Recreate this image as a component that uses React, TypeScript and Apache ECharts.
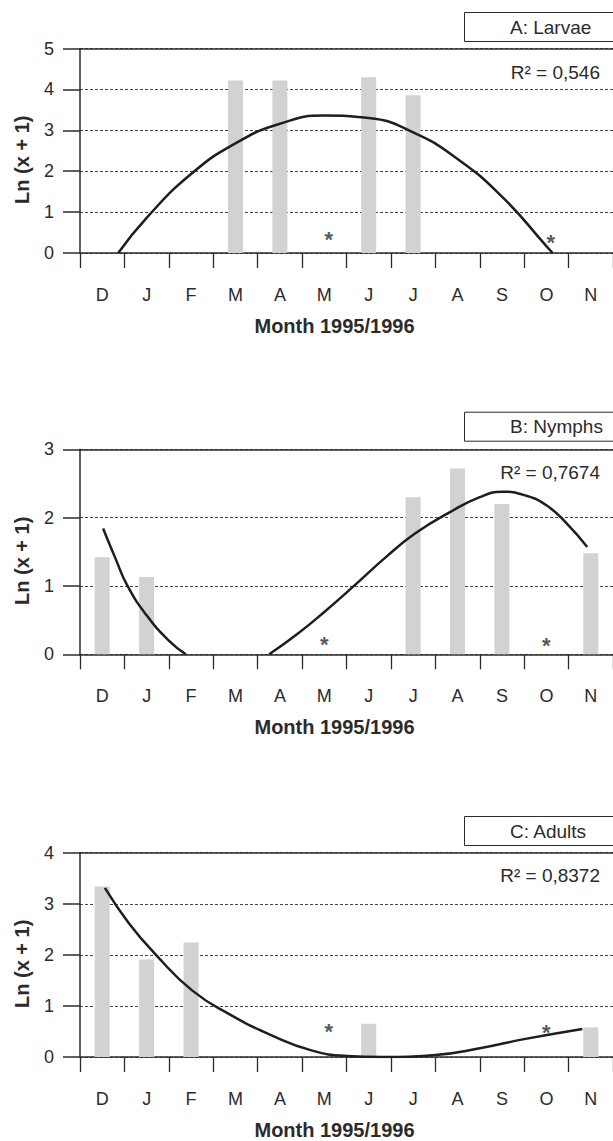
import React, { useEffect, useRef } from "react";
import * as echarts from "echarts";

const months = ["D", "J", "F", "M", "A", "M", "J", "J", "A", "S", "O", "N"];
const xAxisTitle = "Month 1995/1996";
const yAxisTitle = "Ln (x + 1)";

const titles = ["A: Larvae", "B: Nymphs", "C: Adults"];
const r2Labels = ["R² = 0,546", "R² = 0,7674", "R² = 0,8372"];
const yMax = [5, 3, 4];

const barsA = [0, 0, 0, 4.22, 4.22, 0, 4.3, 3.86, 0, 0, 0, 0];
const barsB = [1.42, 1.13, 0, 0, 0, 0, 0, 2.3, 2.72, 2.2, 0, 1.48];
const barsC = [3.34, 1.91, 2.24, 0, 0, 0, 0.65, 0, 0, 0, 0, 0.58];

// asterisks: [month index, height]
const starsA = [[5.1, 0.45], [10.1, 0.38]];
const starsB = [[5, 0.22], [10, 0.2]];
const starsC = [[5.1, 0.6], [10, 0.57]];

// trend curves: [month position, value]
const trendA = [[0.36, 0], [1, 0.86], [2, 1.93], [3, 2.68], [4, 3.16], [5, 3.36], [6, 3.3], [7, 2.95], [8, 2.3], [9, 1.38], [10, 0.17], [10.14, 0]];
const trendB1 = [[0.02, 1.84], [0.3, 1.4], [0.57, 1.0], [1, 0.57], [1.5, 0.2], [1.88, 0]];
const trendB2 = [[3.76, 0], [4.4, 0.3], [5.0, 0.62], [5.7, 1.02], [6.4, 1.43], [7.05, 1.77], [7.83, 2.08], [8.5, 2.3], [9.0, 2.38], [9.5, 2.33], [10.0, 2.18], [10.45, 1.92], [10.92, 1.57]];
const trendC = [[0.06, 3.31], [0.6, 2.62], [1.21, 2.0], [2.03, 1.3], [2.9, 0.82], [3.8, 0.43], [4.71, 0.13], [5.5, 0.02], [6.3, 0], [7.5, 0.04], [8.5, 0.17], [9.5, 0.35], [10.81, 0.55]];

const FONT = "'Liberation Sans', Arial, Helvetica, sans-serif";
const INK = "#2b2b2b";
const BAR = "#d2d2d2";

const layout = [
  { top: 48.5, height: 204.5, boxTop: 12, r2Top: 62 },
  { top: 449.3, height: 205, boxTop: 411.7, r2Top: 462 },
  { top: 852.7, height: 205.6, boxTop: 816, r2Top: 865 },
];

export default function App() {
  const ref = useRef<HTMLDivElement>(null);
  useEffect(() => {
    if (!ref.current) return;
    const chart = echarts.init(ref.current, null, { renderer: "svg" });
    const bars = [barsA, barsB, barsC];
    const stars = [starsA, starsB, starsC];
    const trends = [[trendA], [trendB1, trendB2], [trendC]];

    const grid: any[] = [];
    const xAxis: any[] = [];
    const yAxis: any[] = [];
    const series: any[] = [];
    const title: any[] = [];

    layout.forEach((L, k) => {
      grid.push({ left: 80, right: -3.5, top: L.top, height: L.height });
      xAxis.push({
        type: "category",
        gridIndex: k,
        data: months,
        boundaryGap: true,
        axisLine: { show: true, onZero: false, lineStyle: { color: INK, width: 1.5 } },
        axisTick: { show: true, length: 15, interval: 0, lineStyle: { color: INK, width: 1.3 } },
        axisLabel: { interval: 0, fontSize: 18, color: INK, margin: 33, fontFamily: FONT },
        splitLine: { show: false },
        name: xAxisTitle,
        nameLocation: "middle",
        nameGap: 63,
        nameTextStyle: { fontSize: 20, fontWeight: "bold", color: INK, fontFamily: FONT, padding: [0, 24, 0, 0] },
      });
      xAxis.push({
        type: "value",
        gridIndex: k,
        min: -0.5,
        max: 11.5,
        position: "top",
        axisLine: { show: true, onZero: false, lineStyle: { color: INK, width: 1.5 } },
        axisTick: { show: false },
        axisLabel: { show: false },
        splitLine: { show: false },
      });
      yAxis.push({
        type: "value",
        gridIndex: k,
        min: 0,
        max: yMax[k],
        interval: 1,
        axisLine: { show: true, onZero: false, lineStyle: { color: INK, width: 1.5 } },
        axisTick: { show: true, length: 17, lineStyle: { color: INK, width: 1.5 } },
        axisLabel: { fontSize: 18, color: INK, margin: 26, fontFamily: FONT },
        splitLine: { show: true, lineStyle: { color: "#444", width: 1, type: [3, 2] } },
        name: yAxisTitle,
        nameLocation: "middle",
        nameGap: 48,
        nameTextStyle: { fontSize: 20, fontWeight: "bold", color: INK, fontFamily: FONT, padding: [0, 18, 0, 0] },
      });
      series.push({
        type: "bar",
        xAxisIndex: 2 * k,
        yAxisIndex: k,
        data: bars[k],
        barWidth: 15,
        itemStyle: { color: BAR },
        z: 1,
      });
      trends[k].forEach((t) => {
        series.push({
          type: "line",
          xAxisIndex: 2 * k + 1,
          yAxisIndex: k,
          data: t,
          smooth: 0.5,
          symbol: "none",
          lineStyle: { color: "#1e1e1e", width: 2.5 },
          z: 5,
        });
      });
      series.push({
        type: "scatter",
        xAxisIndex: 2 * k + 1,
        yAxisIndex: k,
        data: stars[k],
        symbolSize: 1,
        itemStyle: { color: "rgba(0,0,0,0)" },
        label: {
          show: true,
          position: "inside",
          formatter: "*",
          fontSize: 22,
          fontWeight: "bold",
          color: INK,
          fontFamily: FONT,
          offset: [0, 5],
        },
        z: 6,
      });
      title.push({
        text: titles[k],
        left: 464,
        top: L.boxTop,
        padding: [5, 45, 5, 46],
        borderWidth: 1,
        borderColor: INK,
        textStyle: { fontSize: 19, fontWeight: "normal", color: INK, fontFamily: FONT, lineHeight: 20 },
      });
      title.push({
        text: r2Labels[k],
        right: 13,
        top: L.r2Top,
        padding: 0,
        textStyle: { fontSize: 19, fontWeight: "normal", color: INK, fontFamily: FONT, lineHeight: 20 },
      });
    });

    chart.setOption({
      animation: false,
      backgroundColor: "#ffffff",
      title,
      grid,
      xAxis,
      yAxis,
      series,
    });
    return () => chart.dispose();
  }, []);

  return (
    <div
      ref={ref}
      style={{ position: "absolute", left: 0, top: 0, width: 613, height: 1141 }}
    />
  );
}
